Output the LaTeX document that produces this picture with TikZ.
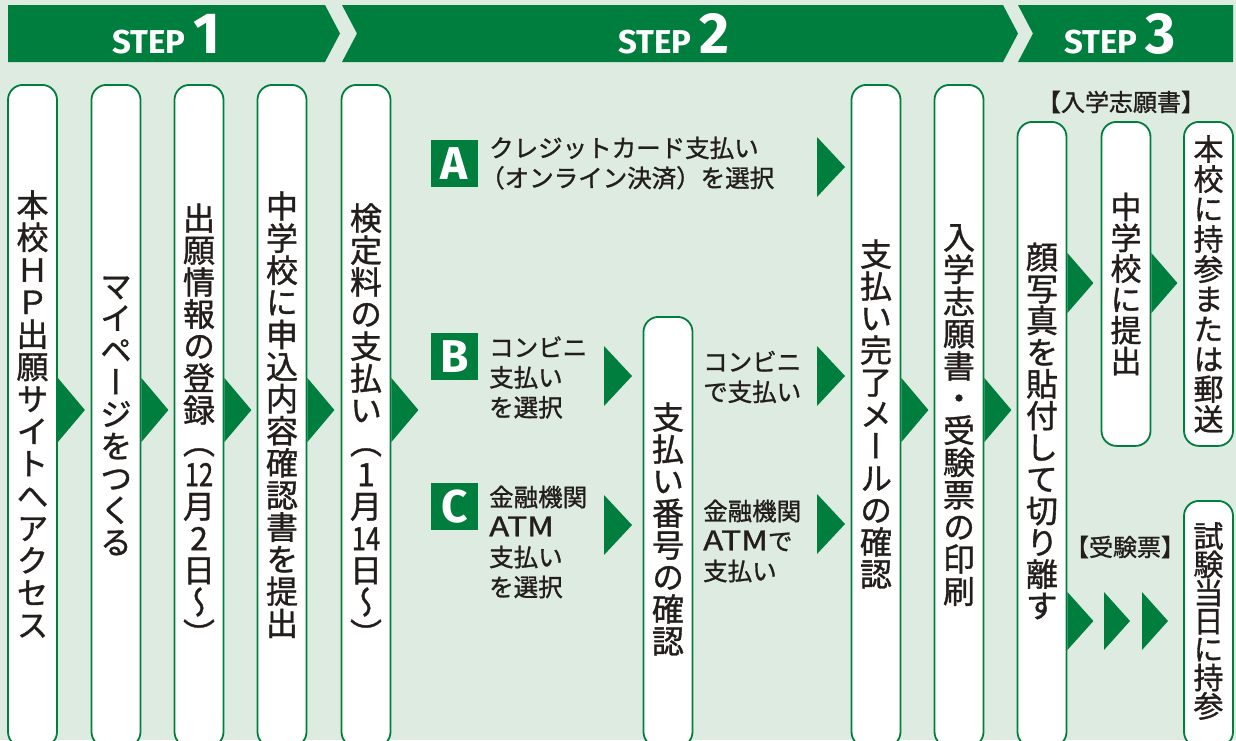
\documentclass[tikz,border=0pt]{standalone}
\usepackage{fontspec}
\newfontfamily\jp[FakeBold=1.1]{Noto Sans CJK JP}
\newfontfamily\jpv[RawFeature=+vert,FakeBold=1.1]{Noto Sans CJK JP}
\newfontfamily\lat{Fira Sans}
\definecolor{grn}{RGB}{0,126,61}
\definecolor{bgc}{RGB}{221,235,224}
\definecolor{ink}{RGB}{35,30,28}
\newcommand\jstrut{\rule[-0.12em]{0pt}{1em}}
\newcommand\vcol[6]{%
  \foreach \ch [count=\i from 0] in {#6}{%
    \node[vch, font=\jpv\fontsize{#5}{#5}\selectfont] (#1-\i) at (#2,{#3+\i*#4}) {\jstrut\ch};
  }}
\tikzset{
  vbox/.style={draw=grn, line width=1.8pt, fill=white, rounded corners=15pt, minimum width=49pt, inner sep=0pt, anchor=north},
  vch/.style={inner sep=0pt, text=ink},
  lbl/.style={inner sep=0pt, text=ink, font=\jp\fontsize{24.5}{30}\selectfont, align=left, anchor=west},
  hdr/.style={inner sep=0pt, text=ink, font=\jp\fontsize{24}{24}\selectfont},
  letterbox/.style={fill=grn, minimum size=47pt, inner sep=0pt, text=white, font=\lat\bfseries\fontsize{46}{46}\selectfont},
  tri/.style={fill=grn},
  steptxt/.style={text=white, inner sep=0pt, anchor=base, font=\lat\bfseries},
  banner/.style={fill=grn},
}
\newcommand\atm{\scalebox{1.35}[1.1]{ATM}}
\begin{document}
\begin{tikzpicture}[x=1pt,y=-1pt]
\useasboundingbox (0,0) rectangle (1236,740);
\clip (0,0) rectangle (1236,740);
\fill[bgc] (0,0) rectangle (1236,740);
% banner
\fill[banner] (8,5) -- (325,5) -- (340,33.5) -- (325,62) -- (8,62) -- cycle;
\fill[banner] (342,5) -- (1003,5) -- (1018,33.5) -- (1003,62) -- (342,62) -- (357,33.5) -- cycle;
\fill[banner] (1018,5) -- (1233,5) -- (1233,62) -- (1018,62) -- (1033,33.5) -- cycle;
\node[steptxt] (s1) at (166.5,53) {\fontsize{33}{33}\selectfont STEP\hspace{8pt}\fontsize{58}{58}\selectfont 1};
\node[steptxt] (s2) at (674,53) {\fontsize{33}{33}\selectfont STEP\hspace{8pt}\fontsize{58}{58}\selectfont 2};
\node[steptxt] (s3) at (1120,53) {\fontsize{33}{33}\selectfont STEP\hspace{8pt}\fontsize{58}{58}\selectfont 3};
% boxes
\node[vbox, minimum height=662pt] (b1) at (32.5,84) {};
\node[vbox, minimum height=662pt] (b2) at (116,84) {};
\node[vbox, minimum height=662pt] (b3) at (199,84) {};
\node[vbox, minimum height=662pt] (b4) at (282,84) {};
\node[vbox, minimum height=662pt] (b5) at (366,84) {};
\node[vbox, minimum height=430pt] (b6) at (668,316) {};
\node[vbox, minimum height=662pt] (b7) at (876,84) {};
\node[vbox, minimum height=662pt] (b8) at (959,84) {};
\node[vbox, minimum height=625pt] (b9) at (1042,121) {};
\node[vbox, minimum height=324pt] (b10) at (1126,121) {};
\node[vbox, minimum height=324pt] (b11) at (1208.5,121) {};
\node[vbox, minimum height=246pt] (b12) at (1208.5,500) {};
% vertical texts
\vcol{t1}{32.5}{205}{32.3}{32}{本,校,Ｈ,Ｐ,出,願,サ,イ,ト,へ,ア,ク,セ,ス}
\vcol{t2}{116}{286}{32}{32}{マ,イ,ペ,ー,ジ,を,つ,く,る}
\vcol{t3}{199}{218}{32}{32}{出,願,情,報,の,登,録,（,{\scalebox{0.8}[1]{12}},月,2,日,～,）}
\vcol{t4}{282}{206}{32.1}{32}{中,学,校,に,申,込,内,容,確,認,書,を,提,出}
\vcol{t5}{366}{218}{32}{32}{検,定,料,の,支,払,い,（,1,月,{\scalebox{0.8}[1]{14}},日,～,）}
\vcol{t6}{668}{417}{32}{32}{支,払,い,番,号,の,確,認}
\vcol{t7}{876}{254}{32}{32}{支,払,い,完,了,メ,ー,ル,の,確,認}
\vcol{t8}{959}{237}{32.2}{32}{入,学,志,願,書,・,受,験,票,の,印,刷}
\vcol{t9}{1042}{257}{31.7}{32}{顔,写,真,を,貼,付,し,て,切,り,離,す}
\vcol{t10}{1126}{207}{30.8}{31}{中,学,校,に,提,出}
\vcol{t11}{1208.5}{149}{30}{30}{本,校,に,持,参,ま,た,は,郵,送}
\vcol{t12}{1208.5}{536}{28.3}{30}{試,験,当,日,に,持,参}
% arrows row 1
\foreach \b in {b1,b2,b3,b4,b5,b7,b8}{
  \fill[tri] (\b.east |- 0,378) -- ++(27,32) -- ++(-27,32) -- cycle;
}
% payment options
\node[letterbox] (la) at (454.5,163.5) {A};
\node[lbl] (ta) at (489,163) {クレジットカード支払い\\\hspace*{-9pt}（オンライン決済）を選択};
\node[letterbox] (lb) at (454.5,356.5) {B};
\node[lbl] (tb) at (489,377.5) {コンビニ\\支払い\\を選択};
\node[letterbox] (lc) at (454.5,506.5) {C};
\node[lbl] (tc) at (489,542) {金融機関\\\atm\\支払い\\を選択};
\node[lbl] (tbr) at (703,377) {コンビニ\\で支払い};
\node[lbl] (tcr) at (703,541) {金融機関\\\atm で\\支払い};
\coordinate (pa) at (817,137);
\coordinate (pbl) at (604,346);
\coordinate (pcl) at (604,495);
\coordinate (pbr) at (817,346);
\coordinate (pcr) at (817,494);
\foreach \p in {pa,pbl,pcl,pbr,pcr}{
  \fill[tri] (\p) -- ++(28,30) -- ++(-28,30) -- cycle;
}
% step 3
\fill[tri] (b9.east |- 0,253) -- ++(26,30) -- ++(-26,30) -- cycle;
\fill[tri] (b10.east |- 0,253) -- ++(26,30) -- ++(-26,30) -- cycle;
\coordinate (q2) at (1104,592);
\coordinate (q3) at (1142,592);
\fill[tri] (b9.east |- 0,592) -- ++(26,29) -- ++(-26,29) -- cycle;
\fill[tri] (q2) -- ++(26,29) -- ++(-26,29) -- cycle;
\fill[tri] (q3) -- ++(26,29) -- ++(-26,29) -- cycle;
\node[hdr] (h1) at (1121,102) {【入学志願書】};
\node[hdr] (h2) at (1125,547) {【受験票】};
\end{tikzpicture}
\end{document}
